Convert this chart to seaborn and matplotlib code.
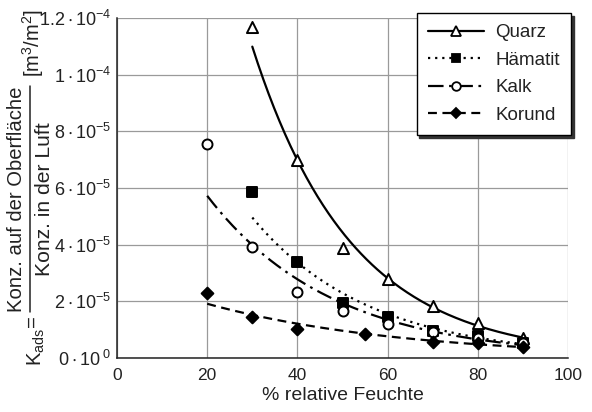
import numpy as np
import pandas as pd
import matplotlib
matplotlib.use("Agg")
import matplotlib.pyplot as plt
from matplotlib.lines import Line2D
import seaborn as sns

# ---- data ----
quarz_x = [30, 40, 50, 60, 70, 80, 90]
quarz_y = [1.17e-4, 7.0e-5, 3.9e-5, 2.8e-5, 1.84e-5, 1.24e-5, 6.9e-6]
haem_x = [30, 40, 50, 60, 70, 80, 90]
haem_y = [5.86e-5, 3.38e-5, 1.95e-5, 1.44e-5, 9.5e-6, 7.8e-6, 5.4e-6]
kalk_x = [20, 30, 40, 50, 60, 70, 80, 90]
kalk_y = [7.55e-5, 3.91e-5, 2.34e-5, 1.66e-5, 1.19e-5, 9.1e-6, 7.2e-6, 5.2e-6]
kor_x = [20, 30, 40, 55, 70, 80, 90]
kor_y = [2.30e-5, 1.45e-5, 1.01e-5, 8.4e-6, 5.8e-6, 5.2e-6, 4.0e-6]

series_names = ["Quarz", "Hämatit", "Kalk", "Korund"]
x_ticks = [0, 20, 40, 60, 80, 100]
y_ticks = [0, 2e-5, 4e-5, 6e-5, 8e-5, 1e-4, 1.2e-4]
y_tick_labels = [r"$0\cdot10^{\,\,0}$", r"$2\cdot10^{-5}$", r"$4\cdot10^{-5}$",
                 r"$6\cdot10^{-5}$", r"$8\cdot10^{-5}$", r"$1\cdot10^{-4}$",
                 r"$1.2\cdot10^{-4}$"]

sns.set_theme(style="white")
plt.rcParams["font.family"] = ["Liberation Sans", "DejaVu Sans"]
plt.rcParams["mathtext.fontset"] = "custom"
plt.rcParams["mathtext.rm"] = "Liberation Sans"
plt.rcParams["mathtext.it"] = "Liberation Sans"
plt.rcParams["mathtext.default"] = "regular"

W, H = 592, 412
fig = plt.figure(figsize=(W / 100, H / 100), dpi=100)
ax = fig.add_axes([117 / W, 1 - 358 / H, 451 / W, 340 / H])

TXT = "#222222"
styles = {
    "Quarz": dict(ls="-", marker="^", mfc="white", ms=8),
    "Hämatit": dict(ls=(0, (1, 2.2)), marker="s", mfc="black", ms=7),
    "Kalk": dict(ls=(0, (7, 2.5, 1.2, 2.5)), marker="o", mfc="white", ms=7.2),
    "Korund": dict(ls=(0, (4, 2.5)), marker="D", mfc="black", ms=6),
}
data = {
    "Quarz": (quarz_x, quarz_y),
    "Hämatit": (haem_x, haem_y),
    "Kalk": (kalk_x, kalk_y),
    "Korund": (kor_x, kor_y),
}

handles = []
for name in series_names:
    xs, ys = data[name]
    st = styles[name]
    df = pd.DataFrame({"x": xs, "y": ys})
    # exponential trend line (least squares in log space)
    b, a = np.polyfit(np.asarray(xs, float), np.log(ys), 1)
    xf = np.linspace(min(xs), max(xs), 200)
    fit = pd.DataFrame({"x": xf, "y": np.exp(a + b * xf)})
    sns.lineplot(data=fit, x="x", y="y", ax=ax, color="black", lw=1.6,
                 linestyle=st["ls"], legend=False)
    sns.scatterplot(data=df, x="x", y="y", ax=ax, marker=st["marker"],
                    s=st["ms"] ** 2, facecolor=st["mfc"], edgecolor="black",
                    linewidth=1.4, legend=False, zorder=5)
    h, = ax.plot([], [], color="black", lw=1.6, linestyle=st["ls"],
                 marker=st["marker"], mfc=st["mfc"], mec="black", ms=st["ms"] - 1,
                 mew=1.3)
    handles.append(h)

ax.set_xlim(0, 100)
ax.set_ylim(0, 1.2e-4)
ax.set_xticks(x_ticks)
ax.set_xticks([10, 30, 50, 70, 90], minor=True)
ax.set_yticks(y_ticks)
ax.set_yticklabels(y_tick_labels)
ax.set_yticks([1e-5, 3e-5, 5e-5, 7e-5, 9e-5, 1.1e-4], minor=True)
ax.grid(True, which="major", color="#9a9a9a", lw=0.9)
ax.set_axisbelow(True)
ax.tick_params(axis="both", which="both", direction="in", color="black",
               labelcolor=TXT, width=1.0)
ax.tick_params(axis="x", labelsize=12.5, pad=7)
ax.tick_params(axis="y", labelsize=13, pad=4)
ax.tick_params(axis="both", which="major", length=7)
ax.tick_params(axis="both", which="minor", length=5)
for side in ["top", "right"]:
    ax.spines[side].set_visible(False)
for side in ["left", "bottom"]:
    ax.spines[side].set_color(TXT)
    ax.spines[side].set_linewidth(1.1)

ax.set_xlabel("% relative Feuchte", fontsize=14, color=TXT, labelpad=3)
ax.set_ylabel("")

# ---- y axis label built as a fraction ----
def fx(px):
    return px / W

def fy(py):
    return 1 - py / H

FS = 14.6
fig.text(fx(17), fy(199), "Konz. auf der Oberfläche", rotation=90,
         ha="center", va="center", fontsize=FS, color=TXT)
fig.text(fx(45), fy(199), "Konz. in der Luft", rotation=90,
         ha="center", va="center", fontsize=15.2, color=TXT)
fig.add_artist(Line2D([fx(29.5), fx(29.5)], [fy(86), fy(312)],
                      transform=fig.transFigure, color=TXT, lw=1.1))
fig.text(fx(32), fy(321), "=", rotation=90, ha="center", va="center",
         fontsize=FS, color=TXT)
fig.text(fx(36), fy(347), "K$_{ads}$", rotation=90, ha="center", va="center",
         fontsize=FS, color=TXT)
fig.text(fx(33), fy(43), "[m$^3$/m$^2$]", rotation=90, ha="center", va="center",
         fontsize=14.5, color=TXT)

leg = ax.legend(handles, series_names, loc="upper right",
                bbox_to_anchor=(fx(571), fy(13)),
                bbox_transform=fig.transFigure, frameon=True, fancybox=False,
                shadow={"color": "#333333", "alpha": 1.0},
                fontsize=13.5, handlelength=3.0, handletextpad=0.6,
                labelspacing=0.55, borderpad=0.6, borderaxespad=0)
leg.get_frame().set_edgecolor("black")
leg.get_frame().set_linewidth(1.0)
for t in leg.get_texts():
    t.set_color(TXT)

fig.savefig("out.png", dpi=100)
